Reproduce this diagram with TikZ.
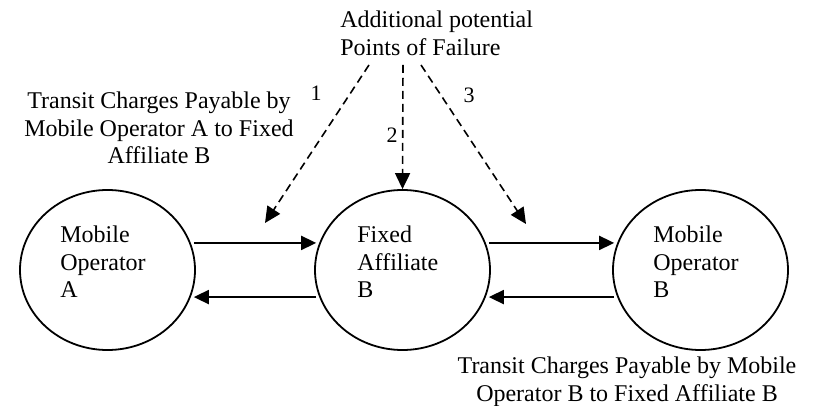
\documentclass[tikz,border=0pt]{standalone}
\usepackage{fontspec}
\setmainfont{Liberation Serif}
\usetikzlibrary{arrows.meta,shapes.geometric}
\begin{document}
\begin{tikzpicture}[x=0.5pt,y=-0.5pt,
  ell/.style={draw,ellipse,line width=0.9pt,minimum width=87.5pt,minimum height=80pt,inner sep=0pt},
  txt/.style={font=\fontsize{12}{13.75}\selectfont,inner sep=0pt},
  num/.style={font=\fontsize{11}{12}\selectfont,inner sep=0pt},
  flow/.style={line width=0.9pt,-{Triangle[length=7.5pt,width=7pt]},shorten >=1.5pt,shorten <=1.5pt},
  fail/.style={line width=0.8pt,dash pattern=on 4pt off 2.5pt,-{Triangle[length=8pt,width=7.5pt]}}]
\useasboundingbox (0,0) rectangle (814,406);
\node[ell] (A) at (107.5,270) {};
\node[ell] (F) at (402.5,270) {};
\node[ell] (B) at (700.5,270) {};
\node[txt,anchor=base west,align=left] (tA) at (60,298) {Mobile\\Operator\\A};
\node[txt,anchor=base west,align=left] (tF) at (357,298) {Fixed\\Affiliate\\B};
\node[txt,anchor=base west,align=left] (tB) at (653,298) {Mobile\\Operator\\B};
\node[txt,anchor=base west,align=left] (P) at (340,55.5) {Additional potential\\Points of Failure};
\node[txt,anchor=base,align=center] (L) at (159,164) {Transit Charges Payable by\\Mobile Operator A to Fixed\\Affiliate B};
\node[txt,anchor=base,align=center] (R) at (627,401) {Transit Charges Payable by Mobile\\Operator B to Fixed Affiliate B};
\node[num] (n1) at (316,93) {1};
\node[num] (n2) at (392,135) {2};
\node[num] (n3) at (469,95) {3};
\coordinate (s1) at (369,65);
\coordinate (s2) at (403,65);
\coordinate (s3) at (421,65);
\coordinate (e1) at (265,223);
\coordinate (e3) at (526,224);
\draw[fail] (s1) -- (e1);
\draw[fail] (s2) -- (F.north);
\draw[fail] (s3) -- (e3);
\draw[flow] (A.18) -- (F.162);
\draw[flow] (F.198) -- (A.-18);
\draw[flow] (F.18) -- (B.162);
\draw[flow] (B.198) -- (F.-18);
\end{tikzpicture}
\end{document}
